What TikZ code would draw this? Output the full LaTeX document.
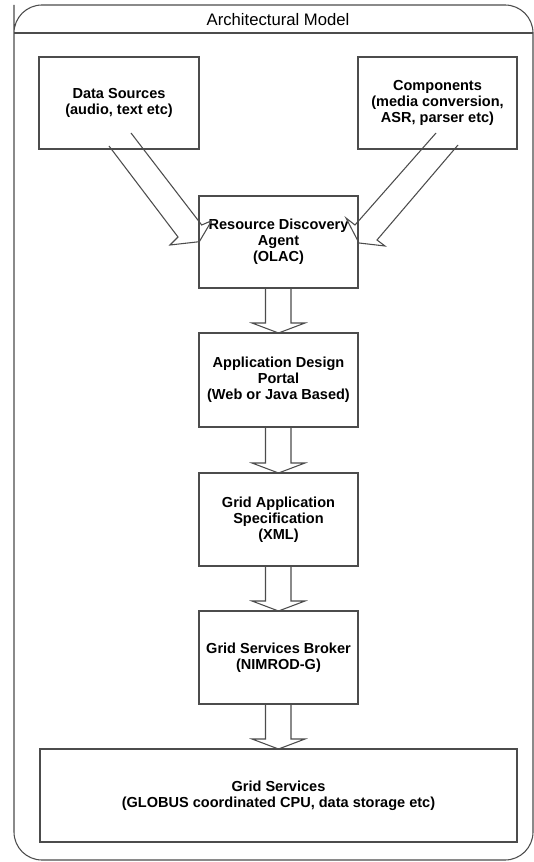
\documentclass[tikz,border=0pt]{standalone}
\usepackage{fontspec}
\setmainfont{Liberation Sans}
\usetikzlibrary{calc}
\begin{document}
\begin{tikzpicture}[x=0.75pt,y=-0.75pt,
  line/.style={draw=black!70,line width=0.8pt},
  box/.style={line,fill=none,inner sep=0pt,outer sep=0pt,align=center,
    font=\fontsize{10.9pt}{12pt}\selectfont\bfseries},
  blk/.style={line,line join=miter}]
\useasboundingbox (0,0) rectangle (534,862);
% outer frame
\draw[line,rounded corners=21pt] (14,33) -- (14,860) -- (533,860) -- (533,5) -- (14,5) -- cycle;
\draw[line] (14,33) -- (533,33);
\node[font=\fontsize{12.5pt}{14pt}\selectfont,inner sep=0pt] (title) at (278,20) {Architectural Model};
% boxes
\node[box,minimum width=160*0.75pt,minimum height=92*0.75pt] (ds) at (119,103) {Data Sources\\(audio, text etc)};
\node[box,minimum width=159*0.75pt,minimum height=92*0.75pt] (comp) at (437.5,103) {Components\\(media conversion,\\ASR, parser etc)};
\node[box,minimum width=159*0.75pt,minimum height=92*0.75pt] (rda) at (278.5,242) {Resource Discovery\\Agent\\(OLAC)};
\node[box,minimum width=159*0.75pt,minimum height=94*0.75pt] (adp) at (278.5,380) {Application Design\\Portal\\(Web or Java Based)};
\node[box,minimum width=159*0.75pt,minimum height=93*0.75pt] (gas) at (278.5,519.5) {Grid Application\\Specification\\(XML)};
\node[box,minimum width=159*0.75pt,minimum height=93*0.75pt] (gsb) at (278.5,657.5) {Grid Services Broker\\(NIMROD-G)};
\node[box,minimum width=477*0.75pt,minimum height=93*0.75pt] (gs) at (278.5,795.5) {Grid Services\\(GLOBUS coordinated CPU, data storage etc)};
% diagonal block arrows
\draw[blk] (131,133) -- (201.7,225) -- (211.7,220.7) -- (199.3,241.7) -- (170,245) -- (178,237) -- (109,146);
\draw[blk] (436,133) -- (355,225) -- (346,218) -- (359,243) -- (385,246) -- (377,240) -- (458,145);
% vertical block arrows
\foreach \a/\b in {rda/adp,adp/gas,gas/gsb,gsb/gs}{
  \draw[blk] ($(\a.south)+(-13,0)$) |- ($(\b.north)+(-26.5,-10)$) -- (\b.north)
    -- ($(\b.north)+(26.5,-10)$) -| ($(\a.south)+(12.5,0)$);
}
\end{tikzpicture}
\end{document}
